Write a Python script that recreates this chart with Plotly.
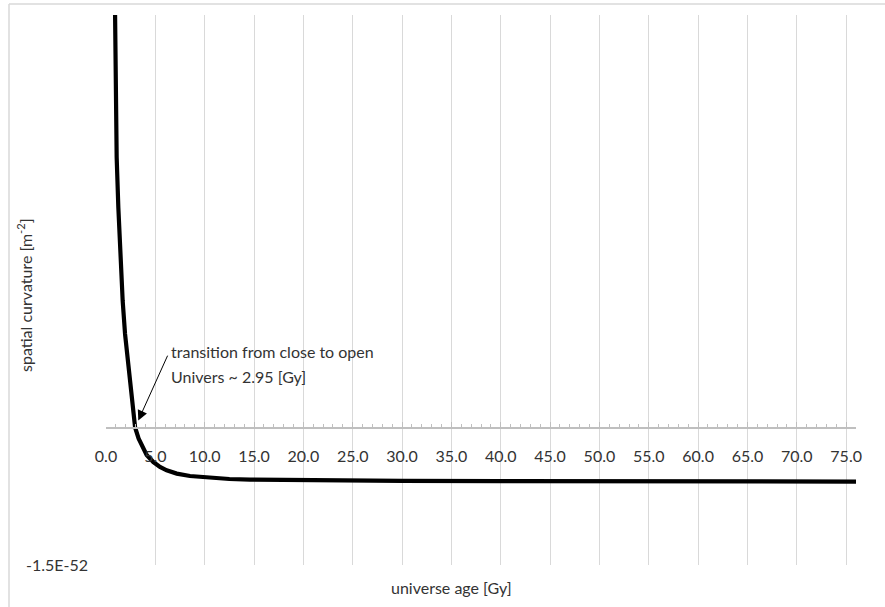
import plotly.graph_objects as go

# Universe age [Gy] and spatial curvature (in units of 1E-52 m^-2)
age_gy = [0.91, 0.98, 1.08, 1.25, 1.35, 1.49, 1.69, 1.93, 2.26, 2.6, 2.95, 3.3,
          3.62, 4.12, 4.8, 5.47, 6.15, 7.17, 8.51, 10.5, 12.5, 14.6, 20, 30,
          40, 50, 60, 70, 76]
curvature_e52 = [4.6, 3.61, 2.95, 2.4, 2.11, 1.74, 1.38, 1.02, 0.66, 0.35, 0.0, -0.12,
                 -0.2, -0.3, -0.377, -0.43, -0.467, -0.503, -0.529, -0.548, -0.562, -0.569, -0.577, -0.583,
                 -0.585, -0.587, -0.588, -0.589, -0.59]

x_ticks = list(range(0, 80, 5))
x_tick_labels = [f"{v:.1f}" for v in x_ticks]
y_ticks = [-1.5]
y_tick_labels = ["-1.5E-52"]

X_MIN, X_MAX = 0, 76
Y_MIN, Y_MAX = -1.5, 4.5

FONT = "Lato"
FS = 16
TEXT = "#333333"
GRID = "#d9d9d9"

fig = go.Figure()
fig.add_trace(go.Scatter(
    x=age_gy, y=curvature_e52, mode="lines",
    line=dict(color="black", width=4.2),
    showlegend=False, hoverinfo="skip",
))

# horizontal axis crosses the vertical axis at zero curvature
x_axis_pos = (0 - Y_MIN) / (Y_MAX - Y_MIN)

fig.update_layout(
    width=885, height=607,
    margin=dict(l=106, r=29, t=15, b=42),
    paper_bgcolor="white", plot_bgcolor="white",
    font=dict(family=FONT, size=FS, color=TEXT),
    xaxis=dict(
        range=[X_MIN, X_MAX], anchor="free", position=x_axis_pos,
        tickvals=x_ticks, ticktext=x_tick_labels,
        showgrid=True, gridcolor=GRID, gridwidth=1,
        zeroline=False,
        showline=True, linecolor="#bfbfbf", linewidth=1.5,
        ticks="inside", ticklen=5, tickcolor="#bfbfbf", tickwidth=1,
        minor=dict(dtick=1, ticks="inside", ticklen=3, tickcolor="#bfbfbf", showgrid=False),
        ticklabelstandoff=15,
        tickfont=dict(family=FONT, size=FS, color=TEXT),
    ),
    yaxis=dict(
        range=[Y_MIN, Y_MAX],
        tickvals=y_ticks, ticktext=y_tick_labels,
        showgrid=True, gridcolor=GRID, gridwidth=1.5,
        zeroline=False, showline=False, ticks="",
        ticklabelstandoff=17,
        tickfont=dict(family=FONT, size=FS, color=TEXT),
    ),
)

# axis titles
fig.add_annotation(
    text="universe age [Gy]", xref="paper", yref="paper",
    x=(451 - 106) / 750, y=-22 / 550, xanchor="center", yanchor="middle",
    showarrow=False, font=dict(family=FONT, size=FS, color=TEXT),
)
fig.add_annotation(
    text="spatial curvature [m<sup>-2</sup>]", xref="paper", yref="paper",
    x=-81 / 750, y=270 / 550, xanchor="center", yanchor="middle", textangle=-90,
    showarrow=False, font=dict(family=FONT, size=FS, color=TEXT),
)

# callout for the sign change of curvature
fig.add_annotation(
    text="transition from close to open", x=6.38, y=0.826,
    xanchor="left", yanchor="middle", showarrow=False,
    font=dict(family=FONT, size=FS, color=TEXT),
)
fig.add_annotation(
    text="Univers ~ 2.95 [Gy]", x=6.38, y=0.554,
    xanchor="left", yanchor="middle", showarrow=False,
    font=dict(family=FONT, size=FS, color=TEXT),
)
fig.add_annotation(
    text="", x=3.27, y=0.076, ax=6.31, ay=0.80, axref="x", ayref="y",
    showarrow=True, arrowhead=2, arrowsize=2, arrowwidth=1, arrowcolor="black",
    standoff=0,
)

# chart-area border
border = dict(color=GRID, width=1.5)
fig.add_shape(type="line", xref="paper", yref="paper",
              x0=-97 / 750, x1=-97 / 750, y0=561 / 550, y1=-60 / 550, line=border)
fig.add_shape(type="line", xref="paper", yref="paper",
              x0=-97 / 750, x1=800 / 750, y0=561 / 550, y1=561 / 550, line=border)

fig.write_html("out.html")
